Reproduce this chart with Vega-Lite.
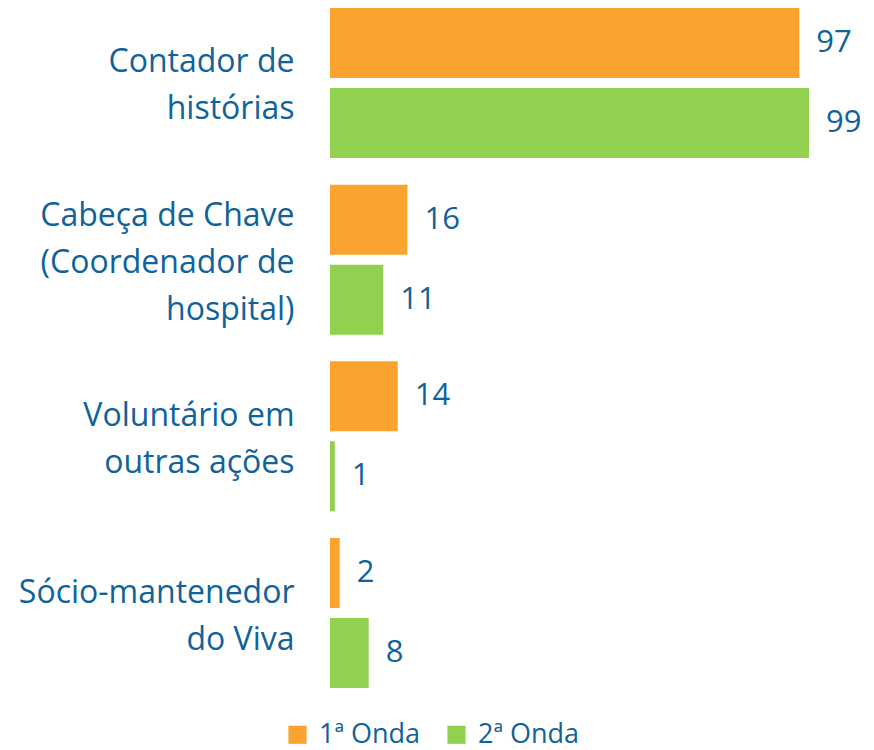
{
  "$schema": "https://vega.github.io/schema/vega-lite/v6.json",
  "width": 540,
  "height": 696,
  "padding": {"top": 0, "left": 330, "right": 4, "bottom": 54},
  "autosize": {"type": "none"},
  "background": "white",
  "data": {"values": [
    {"cat": "Contador de|histórias", "onda": "1ª Onda", "v": 97},
    {"cat": "Contador de|histórias", "onda": "2ª Onda", "v": 99},
    {"cat": "Cabeça de Chave|(Coordenador de|hospital)", "onda": "1ª Onda", "v": 16},
    {"cat": "Cabeça de Chave|(Coordenador de|hospital)", "onda": "2ª Onda", "v": 11},
    {"cat": "Voluntário em|outras ações", "onda": "1ª Onda", "v": 14},
    {"cat": "Voluntário em|outras ações", "onda": "2ª Onda", "v": 1},
    {"cat": "Sócio-mantenedor|do Viva", "onda": "1ª Onda", "v": 2},
    {"cat": "Sócio-mantenedor|do Viva", "onda": "2ª Onda", "v": 8}
  ]},
  "encoding": {
    "y": {"field": "cat", "type": "nominal", "sort": null,
      "scale": {"paddingInner": 0.151, "paddingOuter": 0.045},
      "axis": {"title": null, "domain": false, "ticks": false, "labelExpr": "split(datum.label, '|')",
        "labelFont": "Open Sans", "labelFontSize": 32, "labelColor": "#10639A", "labelPadding": 36,
        "labelLineHeight": 47, "labelLimit": 400, "labelBaseline": "middle",
        "labelOffset": {"condition": {"test": "indexof(datum.value, 'Cabeça') >= 0", "value": -44}, "value": -20.5}}},
    "yOffset": {"field": "onda", "type": "nominal", "scale": {"paddingInner": 0.125, "paddingOuter": 0}},
    "x": {"field": "v", "type": "quantitative", "scale": {"domain": [0, 111.6], "nice": false}, "axis": null}
  },
  "layer": [
    {"mark": {"type": "bar"},
      "encoding": {"color": {"field": "onda", "type": "nominal",
        "scale": {"range": ["#FAA32E", "#92D050"]},
        "legend": {"title": null, "orient": "none", "direction": "horizontal", "legendX": -46, "legendY": 721, "padding": 0,
          "symbolType": "square", "symbolSize": 330, "symbolStrokeWidth": 0, "symbolOpacity": 1,
          "labelFont": "Open Sans", "labelFontSize": 27, "labelColor": "#10639A", "columnPadding": 22, "labelOffset": 8}}}},
    {"mark": {"type": "text", "align": "left", "baseline": "middle", "dx": 17, "font": "Open Sans", "fontSize": 31, "color": "#10639A"},
      "encoding": {"text": {"field": "v", "type": "quantitative"}}}
  ],
  "config": {"view": {"stroke": null}}
}
